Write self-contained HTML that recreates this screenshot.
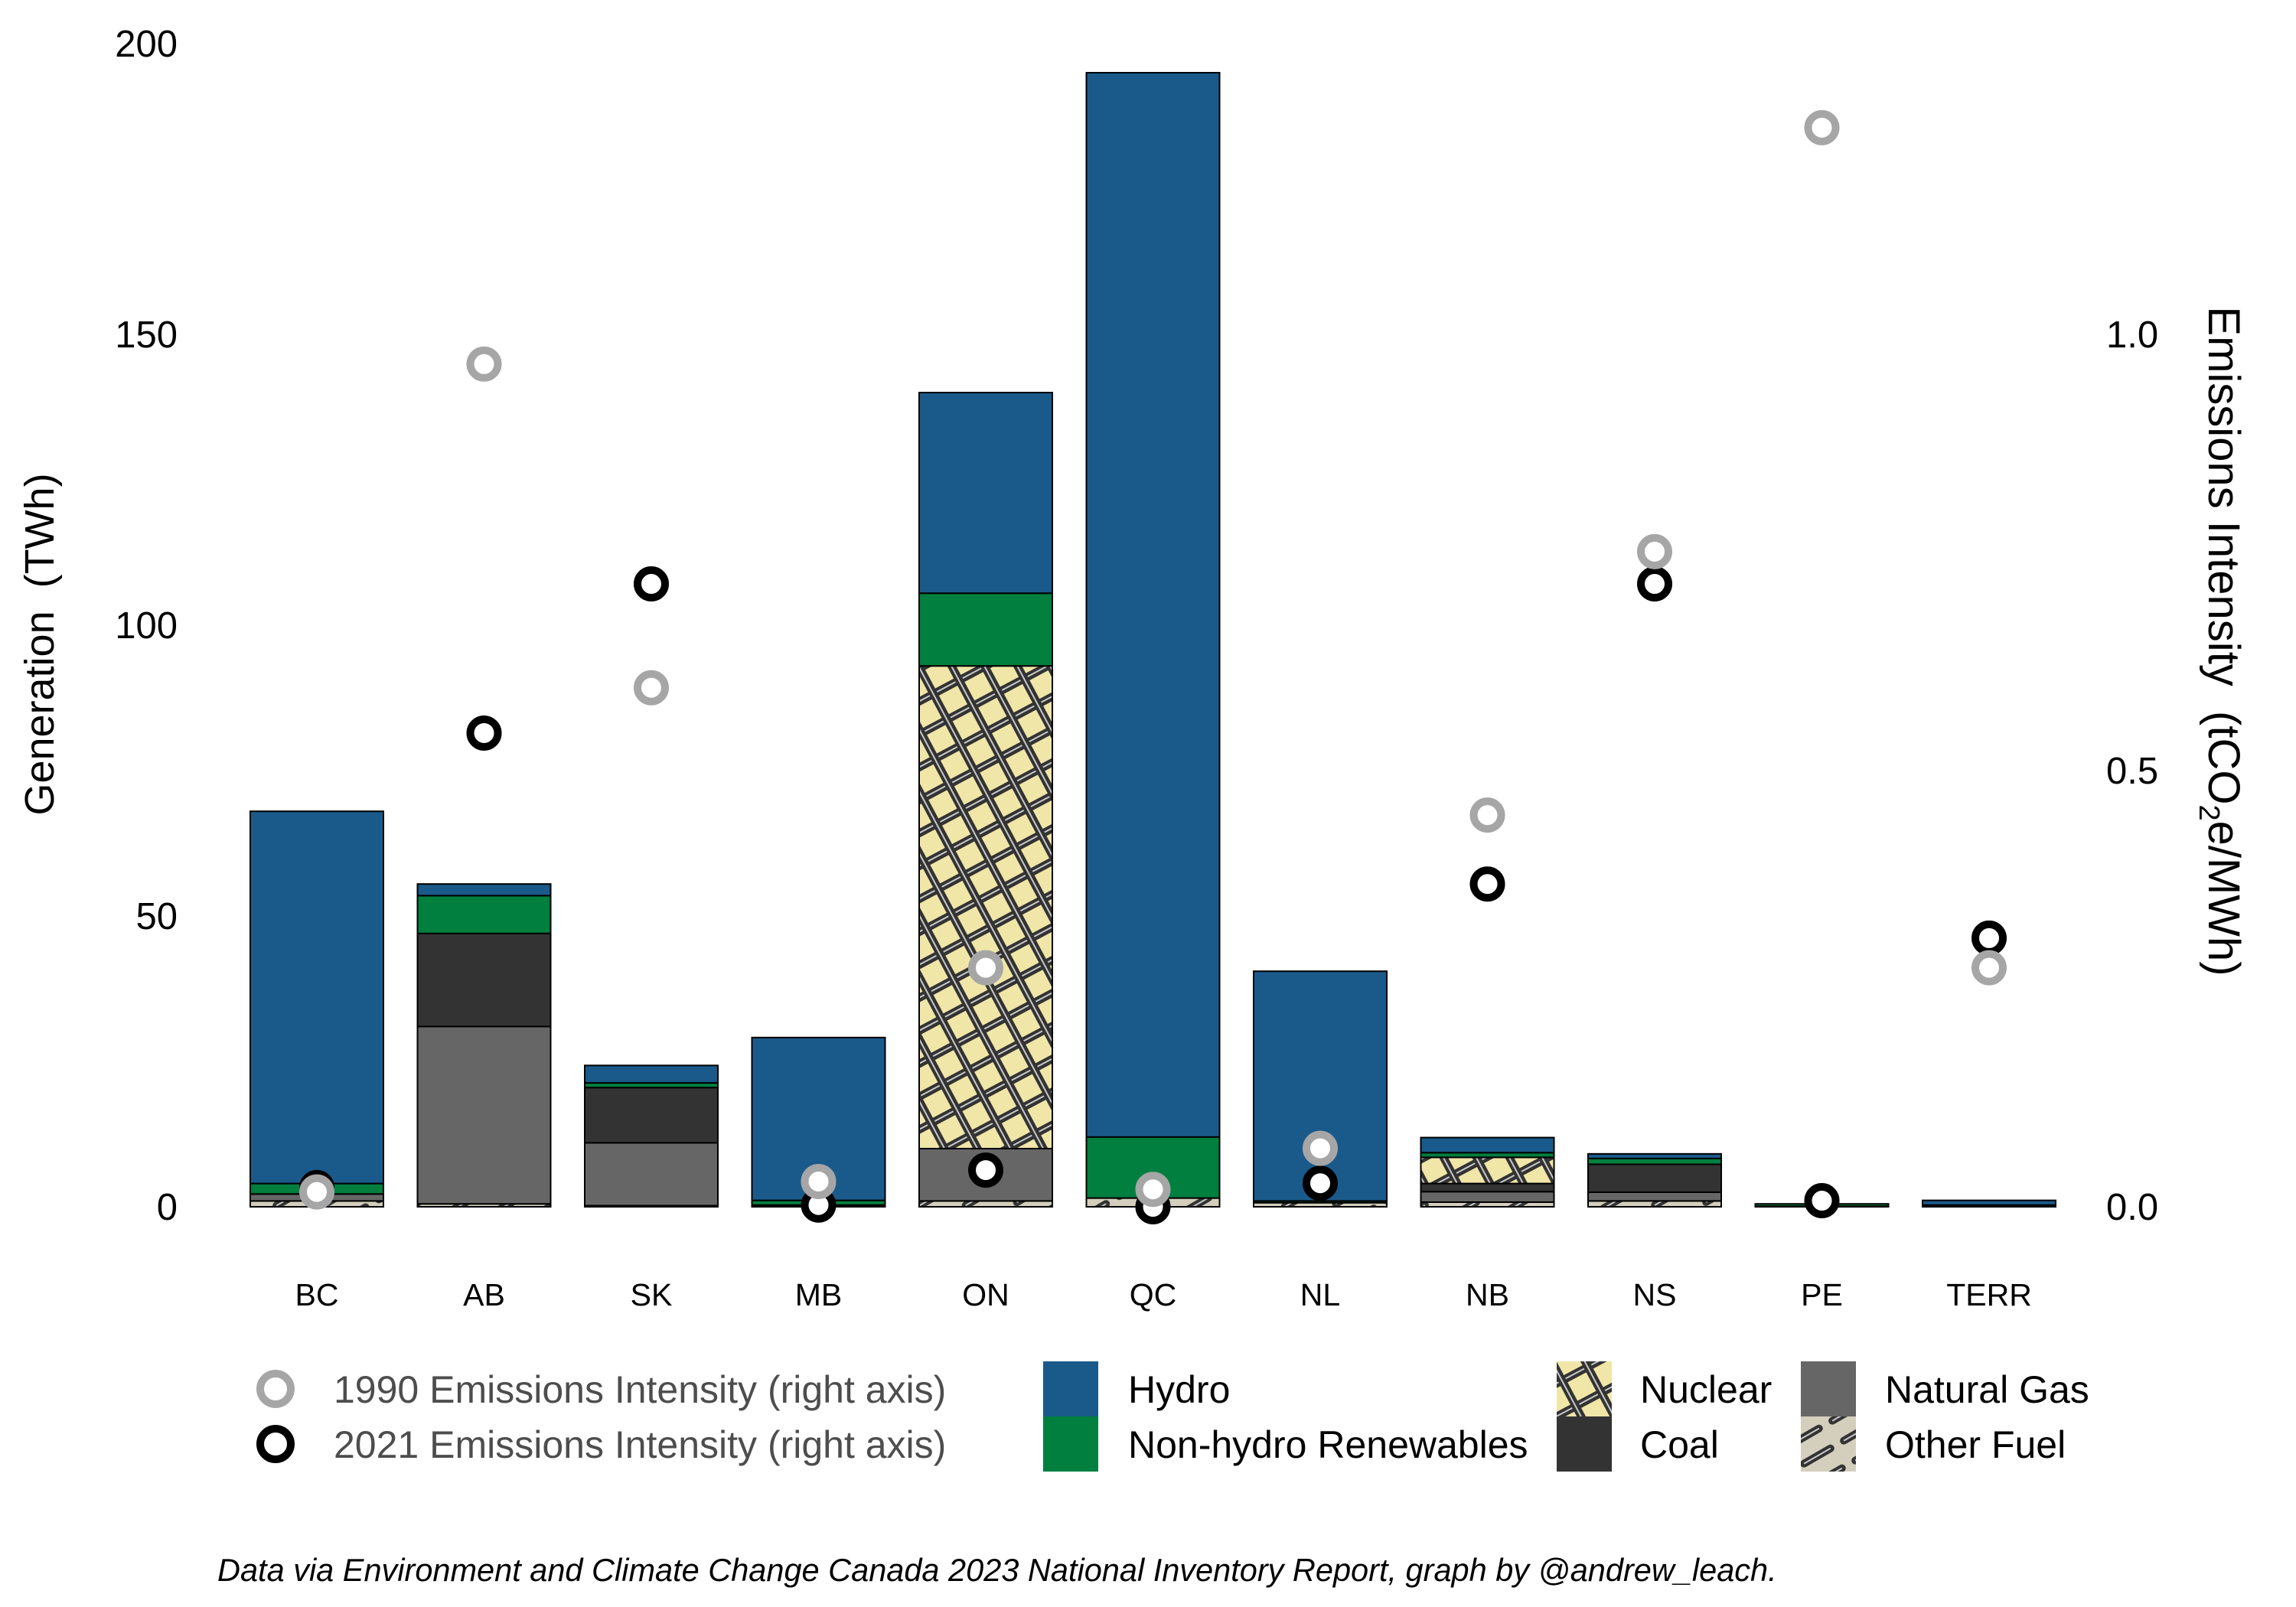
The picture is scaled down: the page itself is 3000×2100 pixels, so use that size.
<!DOCTYPE html>
<html><head><meta charset="utf-8"><style>
html,body{margin:0;padding:0;background:#fff;}
svg{display:block;font-family:"Liberation Sans",sans-serif;}
</style></head><body>
<svg id="chart" width="3000" height="2100" viewBox="0 0 3000 2100" xmlns="http://www.w3.org/2000/svg">
<defs>
<pattern id="nuc" patternUnits="userSpaceOnUse" width="38" height="38" patternTransform="rotate(-28)">
<rect width="38" height="38" fill="#f0e6a8"/>
<line x1="0" y1="5" x2="38" y2="5" stroke="#333" stroke-width="11"/>
<line x1="0" y1="5" x2="38" y2="5" stroke="#c8c8c8" stroke-width="2"/>
<line x1="5" y1="0" x2="5" y2="38" stroke="#333" stroke-width="11"/>
<line x1="5" y1="0" x2="5" y2="38" stroke="#c8c8c8" stroke-width="2"/>
</pattern>
<pattern id="oth" patternUnits="userSpaceOnUse" width="60" height="30" patternTransform="rotate(-30)">
<rect x="-5" y="-5" width="70" height="40" fill="#d3cfbc"/>
<line x1="5" y1="15" x2="45" y2="15" stroke="#333" stroke-width="10" stroke-linecap="round"/>
<line x1="5" y1="15" x2="45" y2="15" stroke="#c8c8c8" stroke-width="2"/>
</pattern>
</defs>
<g id="plot"></g>
<g id="legend">
<circle cx="360" cy="1815" r="20" fill="#fff" stroke="#a6a6a6" stroke-width="10"/>
<circle cx="360" cy="1887" r="20" fill="#fff" stroke="#000" stroke-width="10"/>
<text x="436" y="1833" font-size="50" fill="#4d4d4d">1990 Emissions Intensity (right axis)</text>
<text x="436" y="1905" font-size="50" fill="#4d4d4d">2021 Emissions Intensity (right axis)</text>
<rect x="1363" y="1779" width="72" height="72" fill="#1a5a8a"/>
<rect x="1363" y="1851" width="72" height="72" fill="#007f3f"/>
<text x="1474" y="1833" font-size="50" fill="#000">Hydro</text>
<text x="1474" y="1905" font-size="50" fill="#000">Non-hydro Renewables</text>
<rect x="2034" y="1779" width="72" height="72" fill="url(#nuc)"/>
<rect x="2034" y="1851" width="72" height="72" fill="#333333"/>
<text x="2143" y="1833" font-size="50" fill="#000">Nuclear</text>
<text x="2143" y="1905" font-size="50" fill="#000">Coal</text>
<rect x="2353" y="1779" width="72" height="72" fill="#666666"/>
<rect x="2353" y="1851" width="72" height="72" fill="url(#oth)"/>
<text x="2463" y="1833" font-size="50" fill="#000">Natural Gas</text>
<text x="2463" y="1905" font-size="50" fill="#000">Other Fuel</text>
</g>
<text transform="translate(70,842) rotate(-90)" text-anchor="middle" font-size="54" fill="#000" xml:space="preserve">Generation  (TWh)</text>
<text transform="translate(2886,838) rotate(90)" text-anchor="middle" font-size="58" fill="#000" xml:space="preserve">Emissions Intensity  (tCO<tspan font-size="38" dy="12">2</tspan><tspan dy="-12">e/MWh)</tspan></text>
<text x="284" y="2066" font-size="41.5" font-style="italic" fill="#000">Data via Environment and Climate Change Canada 2023 National Inventory Report, graph by @andrew_leach.</text>
</svg>
<script>
const provinces = ["BC","AB","SK","MB","ON","QC","NL","NB","NS","PE","TERR"];
const otherFuel = [1.0,0.5,0.2,0.2,1.0,1.5,0.7,0.8,1.0,0.1,0.2];
const naturalGas = [1.2,30.5,10.8,0.1,9.0,0.0,0.0,1.8,1.5,0.0,0.1];
const coal = [0.0,16.0,9.5,0.0,0.0,0.0,0.0,1.4,4.8,0.0,0.0];
const nuclear = [0.0,0.0,0.0,0.0,83.0,0.0,0.0,4.5,0.0,0.0,0.0];
const renewables = [1.8,6.5,0.8,0.8,12.5,10.5,0.3,0.8,1.0,0.4,0.0];
const hydro = [64.0,2.0,3.0,28.0,34.5,183.0,39.5,2.6,0.8,0.0,0.8];
const intensity1990 = [0.017,0.966,0.595,0.029,0.274,0.020,0.067,0.449,0.751,1.237,0.274];
const intensity2021 = [0.022,0.543,0.714,0.002,0.042,0.000,0.027,0.370,0.714,0.007,0.308];
const leftTicks = [0,50,100,150,200];
const rightTicks = ["0.0","0.5","1.0"];

const y0 = 1577, yTop = 57;
const yL = v => y0 - v*(y0-yTop)/200;
const yR = v => y0 - v*1140;
const xC = i => 414 + i*218.5;
const barW = 174;
const NS = "http://www.w3.org/2000/svg";
const plot = document.getElementById('plot');
function mk(tag, attrs){const e=document.createElementNS(NS,tag);for(const k in attrs)e.setAttribute(k,attrs[k]);plot.appendChild(e);return e;}

leftTicks.forEach(t=>{
  const e=mk('text',{x:232,y:yL(t)+17,'text-anchor':'end','font-size':49,fill:'#000'});
  e.textContent=t;
  
  
});
rightTicks.forEach(t=>{
  const e=mk('text',{x:2752,y:yR(parseFloat(t))+17,'font-size':49,fill:'#000'});
  e.textContent=t;
  
  
});

const series = [
  {vals:otherFuel, fill:'url(#oth)', name:'other-fuel'},
  {vals:naturalGas, fill:'#666666', name:'natural-gas'},
  {vals:coal, fill:'#333333', name:'coal'},
  {vals:nuclear, fill:'url(#nuc)', name:'nuclear'},
  {vals:renewables, fill:'#007f3f', name:'renewables'},
  {vals:hydro, fill:'#1a5a8a', name:'hydro'}
];
provinces.forEach((p,i)=>{
  let base=0;
  series.forEach(s=>{
    const v=s.vals[i];
    if(v<=0) return;
    const r=mk('rect',{x:xC(i)-barW/2,y:yL(base+v),width:barW,height:yL(base)-yL(base+v),fill:s.fill,stroke:'#000','stroke-width':2});
    
    
    base+=v;
  });
  const t=mk('text',{x:xC(i),y:1706,'text-anchor':'middle','font-size':41,fill:'#000'});
  t.textContent=p;
  
  
});
provinces.forEach((p,i)=>{
  const c=mk('circle',{cx:xC(i),cy:yR(intensity2021[i]),r:18,fill:'#fff',stroke:'#000','stroke-width':10});
  
  
});
provinces.forEach((p,i)=>{
  const c=mk('circle',{cx:xC(i),cy:yR(intensity1990[i]),r:18,fill:'#fff',stroke:'#a6a6a6','stroke-width':10});
  
  
});
</script>
</body></html>
